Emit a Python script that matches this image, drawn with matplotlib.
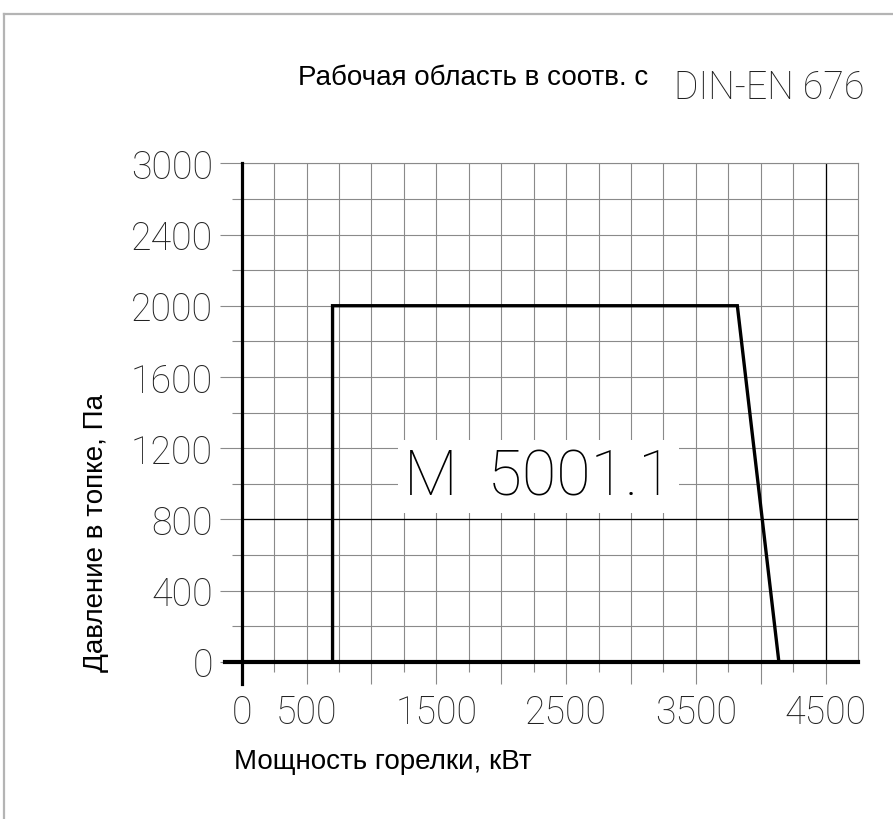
import matplotlib
matplotlib.use("Agg")
import matplotlib.pyplot as plt
from matplotlib.lines import Line2D
import numpy as np

# рабочее поле горелки: мощность (кВт) и давление в топке (Па)
power = [700, 700, 3820, 4140]
pressure = [0, 2000, 2000, 0]

xmajor = np.arange(0, 4501, 500)
xminor = np.arange(250, 4251, 500)
xlabels = ["0", "500", "", "1500", "", "2500", "", "3500", "", "4500"]
ymajor = np.arange(0, 2801, 400)
yminor = np.arange(200, 2601, 400)
ylabels = ["0", "400", "800", "1200", "1600", "2000", "2400", "3000"]

title_ru = "Рабочая область в соотв. с"
norm = "DIN-EN 676"
model = "M  5001.1"
xlab = "Мощность горелки, кВт"
ylab = "Давление в топке, Па"

cad = ["Roboto", "DejaVu Sans"]
arial = ["Liberation Sans", "DejaVu Sans"]
grey = "#8a8a8a"

fig = plt.figure(figsize=(8.93, 8.20), dpi=100)
ax = fig.add_axes([0.2707, 0.1918, 0.6901, 0.6078])

ax.set_xlim(0, 4750)
ax.set_ylim(0, 2800)

ax.set_xticks(xmajor)
ax.set_xticks(xminor, minor=True)
ax.set_xticklabels(xlabels)
ax.set_yticks(ymajor)
ax.set_yticks(yminor, minor=True)
ax.set_yticklabels(ylabels)

ax.tick_params(which="major", length=15.8, width=0.8, color=grey, labelsize=27,
               labelcolor="#222222")
ax.tick_params(which="minor", length=7.2, width=0.8, color=grey)
ax.tick_params(axis="x", which="major", pad=7)
ax.tick_params(axis="y", which="major", pad=5)
for lab in ax.get_xticklabels() + ax.get_yticklabels():
    lab.set_family(cad)
    lab.set_fontweight("light")

ax.grid(which="both", color=grey, lw=0.8)
ax.set_axisbelow(True)

for side in ["left", "bottom"]:
    ax.spines[side].set_visible(False)
for side in ["top", "right"]:
    ax.spines[side].set_color(grey)
    ax.spines[side].set_linewidth(0.8)

# darker reference lines
ax.axhline(800, color="black", lw=0.9, zorder=1.5)
ax.axvline(4500, color="black", lw=0.9, zorder=1.5)

# thick axes, slightly overshooting the origin
ax.axvline(0, ymin=-0.045, ymax=1, color="black", lw=2.3, clip_on=False, zorder=4)
ax.axhline(0, xmin=-0.027, xmax=1, color="black", lw=3.0, clip_on=False, zorder=4)

ax.plot(power, pressure, color="black", lw=2.4, solid_joinstyle="miter", zorder=3)

ax.text(2284, 942, model, family=cad, fontweight="light", fontsize=45,
        ha="center", va="baseline", zorder=5, color="black",
        bbox=dict(facecolor="white", edgecolor="none", boxstyle="square,pad=0.1"))

ax.set_xlabel(xlab, family=arial, fontsize=20, ha="left", va="baseline")
ax.xaxis.set_label_coords(-0.013, -0.2133)
ax.set_ylabel(ylab, family=arial, fontsize=20, va="center")
ax.yaxis.set_label_coords(-0.2364, 0.260)

fig.text(298 / 893, 1 - 85 / 820, title_ru, family=arial, fontsize=20,
         ha="left", va="baseline")
fig.text(864 / 893, 1 - 99 / 820, norm, family=cad, fontweight="light",
         fontsize=27, ha="right", va="baseline", color="#222222")

# grey frame of the original sheet
fig.add_artist(Line2D([4 / 893, 1], [1 - 15 / 820] * 2, color="#b4b4b4", lw=1.6))
fig.add_artist(Line2D([4 / 893] * 2, [0, 1 - 15 / 820], color="#b4b4b4", lw=1.6))

fig.savefig("out.png", dpi=100)
